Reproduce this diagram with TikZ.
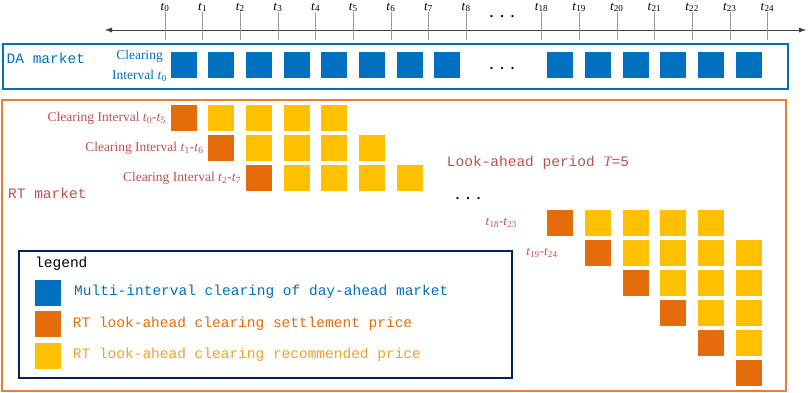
\documentclass[tikz,border=0pt]{standalone}
\usepackage{fontspec}
\setmainfont{Liberation Serif}
\setmonofont{Liberation Mono}
\usetikzlibrary{arrows.meta,positioning}
\definecolor{DAblue}{HTML}{0070C0}
\definecolor{RTdark}{HTML}{E46C0A}
\definecolor{RTyel}{HTML}{FFC000}
\definecolor{RTred}{HTML}{C0504D}
\definecolor{RTbox}{HTML}{ED7D31}
\definecolor{Navy}{HTML}{002060}
\definecolor{LgOrange}{HTML}{F5A01E}
\newcommand{\tk}[1]{\textit{t}\textsubscript{#1}}
\tikzset{
  sq/.style={minimum size=26pt,inner sep=0pt},
  dabox/.style={sq,fill=DAblue},
  setbox/.style={sq,fill=RTdark},
  recbox/.style={sq,fill=RTyel},
  mono/.style={font=\ttfamily\fontsize{14.5}{17}\selectfont,inner sep=0pt},
  lbl/.style={font=\fontsize{13.5}{16}\selectfont,text=RTred,inner sep=0pt},
  dotrow/.style={font=\bfseries\fontsize{14}{14}\selectfont,inner sep=0pt}
}

\begin{document}
\begin{tikzpicture}[x=1pt,y=-1pt]
\useasboundingbox (0,0) rectangle (809,392);
% time axis
\coordinate (axL) at (105,30); \coordinate (axR) at (806,30);
\draw[black!75,{Latex[length=7pt,width=5pt]}-{Latex[length=7pt,width=5pt]}] (axL) -- (axR);
\foreach \k/\lab in {0/0,1/1,2/2,3/3,4/4,5/5,6/6,7/7,8/8,10/18,11/19,12/20,13/21,14/22,15/23,16/24}{
  \coordinate (tk\lab) at ({165+37.65*\k},12);
  \draw[black!40] (tk\lab) -- ++(0,28);
  \node[font=\fontsize{13}{15}\selectfont,inner sep=0pt,anchor=base] (tl\lab) at ({165+37.65*\k},10) {\tk{\lab}};
}
\node[dotrow] (dax) at (502,17) {.\hspace{7pt}.\hspace{7pt}.};
% DA market
\draw[DAblue,line width=2pt] (3,44) rectangle (788,89);
\node[mono,text=DAblue,anchor=west] (dam) at (6.5,58) {DA market};
\node[align=center,text=DAblue,font=\fontsize{13.5}{20}\selectfont,inner sep=0pt] (daclr) at (139.5,66) {Clearing\\Interval \tk{0}};
\foreach \k in {0,...,7,10,11,...,15}
  \node[dabox] (da\k) at ({183.8+37.65*\k},64.7) {};
\node[dotrow] (dda) at (502,69) {.\hspace{7pt}.\hspace{7pt}.};
% RT market
\draw[RTbox,line width=2pt] (2,100) rectangle (786,391);
\node[mono,text=RTred,anchor=west] (rtm) at (8,193) {RT market};
\foreach \r in {0,1,2}{
  \pgfmathtruncatemacro{\e}{\r+5}
  \node[setbox] (st\r) at ({183.8+37.65*\r},{118+30*\r}) {};
  \foreach \j in {1,...,4} \node[recbox] (rc\r-\j) at ({183.8+37.65*(\r+\j)},{118+30*\r}) {};
  \node[lbl,left=4.5pt of st\r] (lb\r) {Clearing Interval \tk{\r}-\tk{\e}};
}
\node[mono,text=RTred,anchor=west] (lah) at (446.7,163) {Look-ahead period {\rmfamily\itshape T}=5};
\node[dotrow] (drt) at (468,199) {.\hspace{7pt}.\hspace{7pt}.};
\foreach \j in {0,...,5}{
  \pgfmathtruncatemacro{\lo}{11+\j}
  \pgfmathtruncatemacro{\hi}{min(14+\j,15)}
  \node[setbox] (bst\j) at ({183.8+37.65*(10+\j)},{222.5+30*\j}) {};
  \ifnum\lo>\hi\else
    \foreach \s in {\lo,...,\hi} \node[recbox] (brc\j-\s) at ({183.8+37.65*\s},{222.5+30*\j}) {};
  \fi
}
\node[lbl,font=\fontsize{13}{15}\selectfont,left=30pt of bst0] (blb0) {\tk{18}-\tk{23}};
\node[lbl,font=\fontsize{13}{15}\selectfont,left=27pt of bst1] (blb1) {\tk{19}-\tk{24}};
% legend
\draw[Navy,line width=1.6pt] (19,251) rectangle (512,378);
\node[mono,anchor=west] (lgt) at (35,264) {legend};
\node[dabox] (lg1) at (47.5,292.5) {};
\node[setbox] (lg2) at (47.5,324.2) {};
\node[recbox] (lg3) at (47.5,355.8) {};
\node[mono,text=DAblue,anchor=west] (lgx1) at (74,291.7) {Multi-interval clearing of day-ahead market};
\node[mono,text=RTdark,anchor=west] (lgx2) at (72.7,323.3) {RT look-ahead clearing settlement price};
\node[mono,text=LgOrange,anchor=west] (lgx3) at (72.7,355) {RT look-ahead clearing recommended price};
\end{tikzpicture}
\end{document}
